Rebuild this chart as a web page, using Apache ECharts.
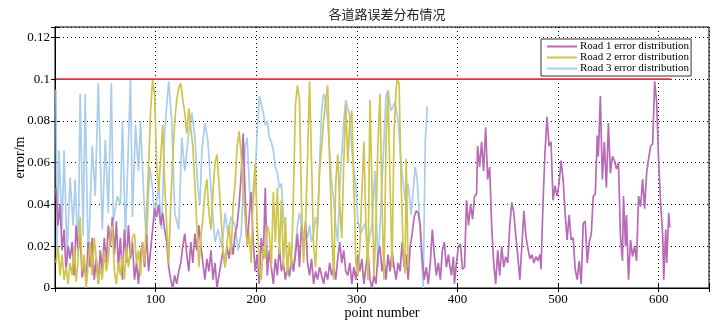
<!DOCTYPE html>
<html>
<head>
<meta charset="utf-8">
<script src="https://cdn.jsdelivr.net/npm/echarts@6/dist/echarts.min.js"></script>
<style>
  html, body { margin: 0; padding: 0; background: #fff; }
  #chart { width: 728px; height: 327px; }
</style>
</head>
<body>
<div id="chart"></div>
<script>
// point number / error pairs
const road1 = [
  [1,0.048],[3,0.030],[5,0.040],[7,0.018],[9,0.028],[11,0.008],[13,0.020],[15,0.014],[17,0.022],[19,0.006],
  [21,0.030],[23,0.018],[25,0.026],[27,0.005],[29,0.012],[31,0.003],[33,0.022],[35,0.010],[37,0.024],[39,0.004],
  [41,0.014],[43,0.002],[45,0.018],[47,0.008],[49,0.024],[51,0.012],[53,0.030],[55,0.020],[57,0.034],[59,0.016],
  [61,0.032],[63,0.010],[65,0.024],[67,0.004],[69,0.028],[71,0.012],[73,0.030],[75,0.014],[77,0.022],[79,0.004],
  [81,0.012],[83,0.002],[85,0.016],[87,0.022],[89,0.010],[91,0.026],[93,0.008],[95,0.018],[97,0.028],[99,0.038],
  [101,0.034],[103,0.040],[105,0.030],[107,0.036],[109,0.028],[111,0.022],[113,0.010],[115,0.004],[117,0.000],[119,0.006],
  [121,0.002],[123,0.008],[125,0.012],[127,0.020],[129,0.026],[131,0.016],[133,0.008],[135,0.022],[137,0.012],[139,0.026],
  [141,0.018],[143,0.030],[145,0.020],[147,0.012],[149,0.004],[151,0.014],[153,0.008],[155,0.018],[157,0.004],[159,0.012],
  [161,0.000],[163,0.006],[165,0.012],[167,0.018],[169,0.010],[171,0.020],[173,0.014],[175,0.022],[177,0.016],[179,0.026],
  [181,0.030],[183,0.040],[185,0.054],[187,0.074],[189,0.044],[191,0.020],[193,0.034],[195,0.046],[197,0.022],[199,0.008],
  [201,0.016],[203,0.002],[205,0.024],[207,0.014],[209,0.048],[211,0.006],[213,0.018],[215,0.010],[217,0.002],[219,0.014],
  [221,0.006],[223,0.020],[225,0.008],[227,0.012],[229,0.004],[231,0.010],[233,0.006],[235,0.014],[237,0.008],[239,0.016],
  [241,0.026],[243,0.010],[245,0.030],[247,0.018],[249,0.032],[251,0.012],[253,0.006],[255,0.014],[257,0.002],[259,0.008],
  [261,0.004],[263,0.010],[265,0.006],[267,0.002],[269,0.008],[271,0.004],[273,0.012],[275,0.006],[277,0.010],[279,0.004],
  [281,0.014],[283,0.022],[285,0.012],[287,0.018],[289,0.008],[291,0.006],[293,0.012],[295,0.002],[297,0.010],[299,0.004],
  [301,0.016],[303,0.008],[305,0.014],[307,0.002],[309,0.010],[311,0.018],[313,0.004],[315,0.000],[317,0.006],[319,0.002],
  [321,0.016],[323,0.020],[325,0.008],[327,0.014],[329,0.004],[331,0.016],[333,0.008],[335,0.018],[337,0.010],[339,0.004],
  [341,0.012],[343,0.008],[345,0.022],[347,0.010],[349,0.016],[351,0.004],[353,0.020],[355,0.026],[357,0.034],[359,0.037],
  [361,0.036],[363,0.030],[365,0.014],[367,0.004],[369,0.010],[371,0.002],[373,0.012],[375,0.028],[377,0.016],[379,0.006],
  [381,0.012],[383,0.004],[385,0.018],[387,0.022],[389,0.010],[391,0.016],[392,0.012],[394,0.006],[396,0.015],[397,0.002],
  [399,0.012],[401,0.020],[403,0.021],[405,0.009],[407,0.010],[409,0.042],[411,0.030],[413,0.040],[415,0.033],[417,0.044],
  [419,0.045],[420,0.068],[422,0.058],[424,0.070],[426,0.056],[428,0.077],[430,0.052],[432,0.058],[434,0.030],[436,0.012],
  [438,0.002],[440,0.018],[442,0.006],[444,0.020],[446,0.010],[448,0.015],[450,0.012],[452,0.030],[454,0.041],[456,0.036],
  [458,0.025],[460,0.015],[462,0.004],[464,0.020],[466,0.037],[468,0.025],[470,0.019],[472,0.014],[474,0.016],[476,0.012],
  [478,0.015],[480,0.013],[482,0.016],[483,0.009],[485,0.040],[487,0.065],[489,0.082],[491,0.068],[493,0.070],[495,0.042],
  [497,0.049],[499,0.044],[501,0.050],[503,0.061],[505,0.052],[507,0.036],[509,0.023],[511,0.035],[513,0.023],[515,0.024],
  [517,0.009],[519,0.004],[521,0.013],[523,0.002],[525,0.031],[527,0.032],[529,0.012],[531,0.022],[533,0.026],[535,0.044],
  [537,0.045],[539,0.073],[540,0.063],[542,0.092],[544,0.052],[546,0.070],[548,0.048],[550,0.079],[552,0.055],[554,0.063],
  [556,0.061],[558,0.057],[560,0.060],[562,0.025],[564,0.013],[565,0.044],[567,0.020],[568,0.035],[570,0.004],[572,0.023],
  [574,0.015],[576,0.020],[578,0.013],[580,0.044],[582,0.039],[584,0.052],[586,0.038],[588,0.055],[590,0.062],[592,0.068],
  [594,0.069],[596,0.099],[598,0.089],[600,0.060],[602,0.040],[604,0.025],[605,0.004],[607,0.028],[608,0.012],[610,0.036],
  [611,0.029]
];
const road2 = [
  [1,0.012],[3,0.020],[5,0.006],[7,0.016],[9,0.004],[11,0.010],[13,0.002],[15,0.012],[17,0.006],[19,0.020],
  [21,0.003],[23,0.014],[25,0.034],[27,0.008],[29,0.016],[31,0.000],[33,0.012],[35,0.022],[37,0.006],[39,0.024],
  [41,0.014],[43,0.002],[45,0.010],[47,0.004],[49,0.018],[51,0.008],[53,0.014],[55,0.026],[57,0.030],[59,0.008],
  [61,0.002],[63,0.012],[65,0.006],[67,0.016],[69,0.004],[71,0.020],[73,0.010],[75,0.018],[77,0.024],[79,0.026],
  [81,0.012],[83,0.018],[85,0.006],[87,0.022],[89,0.012],[91,0.036],[93,0.058],[95,0.085],[97,0.100],[99,0.092],
  [101,0.060],[103,0.046],[105,0.062],[107,0.078],[109,0.050],[111,0.030],[113,0.012],[115,0.040],[117,0.062],[119,0.080],
  [121,0.090],[123,0.096],[125,0.098],[127,0.090],[129,0.084],[131,0.074],[133,0.086],[135,0.076],[137,0.068],[139,0.050],
  [141,0.030],[143,0.010],[145,0.024],[147,0.034],[149,0.046],[151,0.052],[153,0.036],[155,0.028],[157,0.046],[159,0.060],
  [161,0.064],[163,0.050],[165,0.034],[167,0.018],[169,0.010],[171,0.022],[173,0.030],[175,0.016],[177,0.040],[179,0.050],
  [181,0.068],[183,0.075],[185,0.064],[187,0.048],[189,0.034],[191,0.020],[193,0.026],[195,0.012],[197,0.046],[199,0.060],
  [201,0.030],[203,0.010],[205,0.004],[207,0.020],[209,0.014],[211,0.030],[213,0.026],[215,0.010],[217,0.046],[219,0.022],
  [221,0.048],[223,0.016],[225,0.042],[227,0.010],[229,0.034],[231,0.006],[233,0.022],[235,0.010],[237,0.046],[239,0.088],
  [241,0.097],[243,0.090],[245,0.040],[247,0.012],[249,0.030],[251,0.062],[253,0.099],[255,0.060],[257,0.020],[259,0.010],
  [261,0.032],[263,0.056],[265,0.068],[267,0.080],[269,0.090],[271,0.097],[273,0.060],[275,0.030],[277,0.004],[279,0.050],
  [281,0.064],[283,0.040],[285,0.024],[287,0.060],[289,0.088],[291,0.060],[293,0.080],[295,0.085],[297,0.050],[299,0.012],
  [301,0.006],[303,0.020],[305,0.046],[307,0.070],[309,0.030],[311,0.004],[313,0.090],[315,0.050],[317,0.006],[319,0.030],
  [321,0.070],[323,0.093],[325,0.040],[327,0.004],[329,0.070],[331,0.094],[333,0.050],[335,0.010],[337,0.075],[339,0.095],
  [340,0.100],[342,0.098],[344,0.050],[346,0.020],[348,0.007],[349,0.062],[351,0.010]
];
const road3 = [
  [1,0.095],[2,0.017],[4,0.066],[7,0.028],[9,0.066],[12,0.015],[15,0.053],[18,0.030],[20,0.052],[23,0.015],
  [25,0.093],[28,0.025],[30,0.093],[33,0.012],[37,0.068],[40,0.044],[43,0.098],[47,0.028],[50,0.071],[53,0.036],
  [56,0.098],[58,0.032],[62,0.044],[65,0.040],[67,0.080],[70,0.024],[75,0.100],[77,0.034],[80,0.078],[83,0.056],
  [85,0.080],[88,0.046],[91,0.021],[94,0.058],[97,0.048],[99,0.032],[101,0.042],[103,0.048],[106,0.028],[109,0.075],
  [113,0.099],[116,0.080],[119,0.036],[123,0.028],[126,0.072],[129,0.056],[133,0.075],[136,0.084],[139,0.072],[142,0.048],
  [144,0.040],[146,0.066],[149,0.079],[152,0.070],[156,0.040],[159,0.022],[162,0.028],[166,0.019],[169,0.036],[172,0.026],
  [175,0.034],[179,0.030],[182,0.018],[185,0.026],[189,0.068],[191,0.072],[194,0.040],[197,0.040],[199,0.055],[201,0.075],
  [203,0.092],[205,0.088],[207,0.084],[209,0.078],[211,0.080],[213,0.072],[215,0.070],[217,0.066],[219,0.058],[221,0.055],
  [223,0.048],[225,0.050],[227,0.034],[229,0.025],[231,0.010],[233,0.005],[235,0.012],[237,0.008],[239,0.020],[241,0.030],
  [243,0.036],[245,0.030],[247,0.026],[249,0.028],[251,0.024],[253,0.030],[255,0.022],[257,0.026],[259,0.034],[261,0.030],
  [263,0.060],[265,0.085],[267,0.093],[269,0.090],[271,0.080],[273,0.065],[275,0.050],[277,0.042],[279,0.030],[281,0.022],
  [283,0.048],[285,0.064],[287,0.080],[289,0.090],[291,0.086],[293,0.082],[295,0.066],[297,0.057],[299,0.049],[301,0.032],
  [304,0.026],[308,0.031],[311,0.020],[315,0.030],[318,0.056],[321,0.010],[326,0.060],[329,0.092],[331,0.095],[334,0.085],
  [338,0.089],[341,0.080],[344,0.060],[348,0.042],[351,0.050],[354,0.035],[358,0.058],[360,0.052],[362,0.035],[366,0.000],
  [368,0.070],[370,0.087]
];
const limitX = [1, 612];
const limitY = [0.1, 0.1];

const xTicks = [100, 200, 300, 400, 500, 600];
const yTicks = [0, 0.02, 0.04, 0.06, 0.08, 0.1, 0.12];

const seriesNames = ['Road 1 error distribution', 'Road 2 error distribution', 'Road 3 error distribution'];
const colors = ['#b86ab6', '#cfc54c', '#a9cdea'];

const serif = 'Liberation Serif, Times New Roman, serif';

function initChart() {
  const chart = echarts.init(document.getElementById('chart'), null, { renderer: 'canvas' });

  const option = {
    animation: false,
    title: {
      text: '各道路误差分布情况',
      left: 382,
      top: 3,
      textAlign: 'center',
      textStyle: { fontFamily: 'Noto Sans CJK SC', fontSize: 13, fontWeight: 'normal', color: '#222' }
    },
    grid: {
      left: 55, right: 19, top: 27, bottom: 39,
      containLabel: false, outerBoundsMode: 'none',
      show: true, borderColor: '#000', borderWidth: 1, backgroundColor: '#fff'
    },
    legend: {
      data: seriesNames,
      orient: 'vertical',
      left: 541, top: 39,
      padding: [2, 2, 2, 6],
      itemGap: 0,
      itemWidth: 30, itemHeight: 2,
      icon: 'rect',
      borderColor: '#333', borderWidth: 1,
      backgroundColor: '#fff',
      textStyle: { fontFamily: serif, fontSize: 11, color: '#000', padding: [0, 0, 0, -2] }
    },
    xAxis: [
      {
        type: 'value', min: 0, max: 650, interval: 100,
        name: 'point number', nameLocation: 'middle', nameGap: 18, nameMoveOverlap: false,
        nameTextStyle: { fontFamily: serif, fontSize: 14, color: '#000' },
        axisLine: { lineStyle: { color: '#000' } },
        axisTick: { inside: true, length: 4, lineStyle: { color: '#000' } },
        axisLabel: {
          fontFamily: serif, fontSize: 13, color: '#000', margin: 5,
          formatter: v => (xTicks.indexOf(v) >= 0 ? String(v) : '')
        },
        splitLine: { show: true, lineStyle: { color: '#000', type: [1, 3], width: 1 } }
      },
      {
        type: 'value', min: 0, max: 650, interval: 100, position: 'top',
        axisLine: { lineStyle: { color: '#000' } },
        axisTick: { inside: true, length: 4, lineStyle: { color: '#000' } },
        axisLabel: { show: false }, splitLine: { show: false }
      }
    ],
    yAxis: [
      {
        type: 'value', min: 0, max: 0.125, interval: 0.02,
        name: 'error/m', nameLocation: 'middle', nameGap: 28, nameMoveOverlap: false,
        nameTextStyle: { fontFamily: serif, fontSize: 14, color: '#000' },
        axisLine: { show: true, lineStyle: { color: '#000' } },
        axisTick: { show: true, inside: true, length: 4, lineStyle: { color: '#000' } },
        axisLabel: {
          fontFamily: serif, fontSize: 13, color: '#000', margin: 5,
          formatter: v => {
            const t = yTicks.find(y => Math.abs(y - v) < 1e-9);
            return t === undefined ? '' : String(t);
          }
        },
        splitLine: { show: true, lineStyle: { color: '#000', type: [1, 3], width: 1 } }
      },
      {
        type: 'value', min: 0, max: 0.125, interval: 0.02, position: 'right',
        axisLine: { show: true, lineStyle: { color: '#000' } },
        axisTick: { show: true, inside: true, length: 4, lineStyle: { color: '#000' } },
        axisLabel: { show: false }, splitLine: { show: false }
      }
    ],
    series: [
      {
        name: seriesNames[2], type: 'line', data: road3, showSymbol: false, z: 2,
        lineStyle: { color: colors[2], width: 1.7 }, itemStyle: { color: colors[2] }
      },
      {
        name: seriesNames[0], type: 'line', data: road1, showSymbol: false, z: 3,
        lineStyle: { color: colors[0], width: 1.7 }, itemStyle: { color: colors[0] }
      },
      {
        name: seriesNames[1], type: 'line', data: road2, showSymbol: false, z: 4,
        lineStyle: { color: colors[1], width: 1.7 }, itemStyle: { color: colors[1] }
      },
      {
        // 0.1 m limit line
        name: 'limit', type: 'line', showSymbol: false, z: 5,
        data: limitX.map((x, i) => [x, limitY[i]]),
        lineStyle: { color: '#e8312f', width: 1.7 }
      }
    ]
  };

  chart.setOption(option);
}

initChart();
</script>
</body>
</html>
